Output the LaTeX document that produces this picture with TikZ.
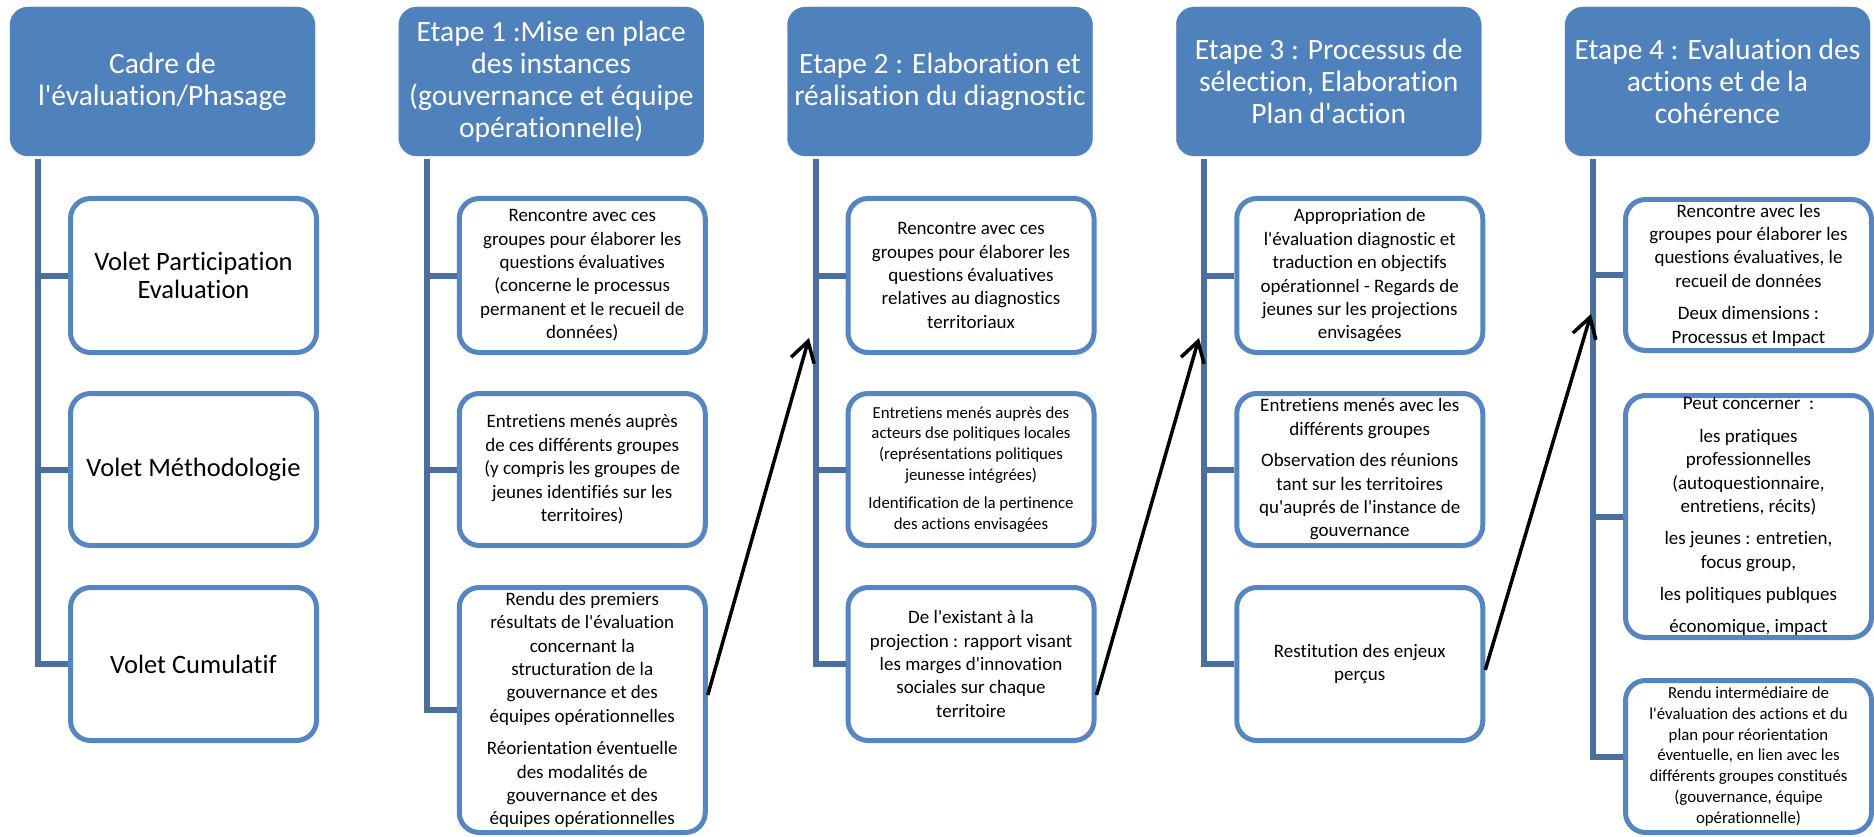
\documentclass[tikz,border=0pt]{standalone}
\usepackage{fontspec}
\setmainfont{Carlito}[Ligatures={TeXOff,CommonOff}]
\usepackage{tikz}
\usetikzlibrary{arrows.meta}

\definecolor{hdrblue}{HTML}{4F81BD}
\definecolor{boxblue}{HTML}{5586C1}
\definecolor{trunkblue}{HTML}{4A6E9E}

\newcommand{\hdrfont}{\fontsize{29.5}{32}\selectfont}
\newcommand{\bigfont}{\fontsize{26.5}{28.7}\selectfont}
\newcommand{\midfont}{\fontsize{19}{23.4}\selectfont}
\newcommand{\smallfont}{\fontsize{16.8}{20.7}\selectfont}

\tikzset{
  stage/.style={rectangle, rounded corners=18pt, fill=hdrblue, draw=hdrblue,
    minimum width=305pt, minimum height=149pt, inner sep=2pt,
    text=white, align=center, font=\hdrfont},
  item/.style={rectangle, rounded corners=20pt, fill=white, draw=boxblue,
    line width=5pt, minimum width=246pt, inner sep=1pt,
    text=black, align=center, font=\midfont},
  trunk/.style={draw=trunkblue, line width=6pt},
  flow/.style={draw=black, line width=3.5pt,
    -{Straight Barb[length=20pt, width=24pt, line width=3.5pt]}}
}

\begin{document}
\begin{tikzpicture}[x=1pt, y=-1pt]
    \useasboundingbox (0, 0) rectangle (1874, 837);

    % column 0 : cadre
    \node[stage] (h0) at (162.5, 81.5){Cadre de\\l'évaluation/Phasage};
    \node[item, minimum height=154pt, font=\bigfont] (b01) at (193.5, 275.5)
      {Volet Participation\\Evaluation};
    \node[item, minimum height=152pt, font=\bigfont] (b02) at (193.5, 469.5)
      {Volet Méthodologie};
    \node[item, minimum height=153pt, font=\bigfont] (b03) at (193.5, 664)
      {Volet Cumulatif};
    \coordinate (s0) at (38, 159);
    \draw[trunk] (s0) |- (b03.west);
    \draw[trunk] (b01.west) -- (b01.west -| s0);
    \draw[trunk] (b02.west) -- (b02.west -| s0);

    % column 1 : etape 1
    \node[stage] (h1) at (551.25, 81.5)
      {Etape 1 :Mise en place\\des instances\\(gouvernance et équipe\\opérationnelle)};
    \node[item, minimum height=154pt] (b11) at (582.25, 275.5)
      {Rencontre avec ces\\groupes pour élaborer les\\questions évaluatives\\(concerne le processus\\permanent et le recueil de\\données)};
    \node[item, minimum height=152pt] (b12) at (582.25, 469.5)
      {Entretiens menés auprès\\de ces différents groupes\\(y compris les groupes de\\jeunes identifiés sur les\\territoires)};
    \node[item, minimum height=245pt] (b13) at (582.25, 710)
      {Rendu des premiers\\résultats de l'évaluation\\concernant la\\structuration de la\\gouvernance et des\\équipes opérationnelles\\[9pt]
       Réorientation éventuelle\\des modalités de\\gouvernance et des\\équipes opérationnelles};
    \coordinate (s1) at (426.75, 159);
    \draw[trunk] (s1) |- (b13.west);
    \draw[trunk] (b11.west) -- (b11.west -| s1);
    \draw[trunk] (b12.west) -- (b12.west -| s1);

    % column 2 : etape 2
    \node[stage] (h2) at (940, 81.5)
      {Etape 2 : Elaboration et\\réalisation du diagnostic};
    \node[item, minimum height=154pt] (b21) at (971, 275.5)
      {Rencontre avec ces\\groupes pour élaborer les\\questions évaluatives\\relatives au diagnostics\\territoriaux};
    \node[item, minimum height=152pt, font=\smallfont] (b22) at (971, 469.5)
      {Entretiens menés auprès des\\acteurs dse politiques locales\\(représentations politiques\\jeunesse intégrées)\\[8pt]
       Identification de la pertinence\\des actions envisagées};
    \node[item, minimum height=153pt] (b23) at (971, 664)
      {De l'existant à la\\projection : rapport visant\\les marges d'innovation\\sociales sur chaque\\territoire};
    \coordinate (s2) at (815.5, 159);
    \draw[trunk] (s2) |- (b23.west);
    \draw[trunk] (b21.west) -- (b21.west -| s2);
    \draw[trunk] (b22.west) -- (b22.west -| s2);

    % column 3 : etape 3
    \node[stage] (h3) at (1328.75, 81.5)
      {Etape 3 : Processus de\\sélection, Elaboration\\Plan d'action};
    \node[item, minimum height=154pt] (b31) at (1359.75, 275.5)
      {Appropriation de\\l'évaluation diagnostic et\\traduction en objectifs\\opérationnel - Regards de\\jeunes sur les projections\\envisagées};
    \node[item, minimum height=152pt] (b32) at (1359.75, 469.5)
      {Entretiens menés avec les\\différents groupes\\[8pt]
       Observation des réunions\\tant sur les territoires\\qu'auprés de l'instance de\\gouvernance};
    \node[item, minimum height=153pt] (b33) at (1359.75, 664)
      {Restitution des enjeux\\perçus};
    \coordinate (s3) at (1204.25, 159);
    \draw[trunk] (s3) |- (b33.west);
    \draw[trunk] (b31.west) -- (b31.west -| s3);
    \draw[trunk] (b32.west) -- (b32.west -| s3);

    % column 4 : etape 4
    \node[stage] (h4) at (1717.5, 81.5)
      {Etape 4 : Evaluation des\\actions et de la\\cohérence};
    \node[item, minimum height=151pt] (b41) at (1748.5, 275)
      {Rencontre avec les\\groupes pour élaborer les\\questions évaluatives, le\\recueil de données\\[9pt]
       Deux dimensions :\\Processus et Impact};
    \node[item, minimum height=242pt] (b42) at (1748.5, 516.5)
      {Peut concerner~~:\\[9pt] les pratiques\\professionnelles\\(autoquestionnaire,\\entretiens, récits)\\[9pt]
       les jeunes : entretien,\\focus group,\\[9pt] les politiques publques\\[8pt] économique, impact};
    \node[item, minimum height=152pt, font=\smallfont] (b43) at (1748.5, 756.5)
      {Rendu intermédiaire de\\l'évaluation des actions et du\\plan pour réorientation\\éventuelle, en lien avec les\\différents groupes constitués\\(gouvernance, équipe\\opérationnelle)};
    \coordinate (s4) at (1593, 159);
    \draw[trunk] (s4) |- (b43.west);
    \draw[trunk] (b41.west) -- (b41.west -| s4);
    \draw[trunk] (b42.west) -- (b42.west -| s4);

    % passage d'une etape a l'autre
    \coordinate (t2) at (809, 338);
    \coordinate (t3) at (1199, 338);
    \coordinate (t4) at (1591, 314);
    \draw[flow] ([yshift=15pt]b13.east) -- (t2);
    \draw[flow] ([yshift=-31pt]b23.east) -- (t3);
    \draw[flow] ([yshift=-6pt]b33.east) -- (t4);
  \end{tikzpicture}
\end{document}
